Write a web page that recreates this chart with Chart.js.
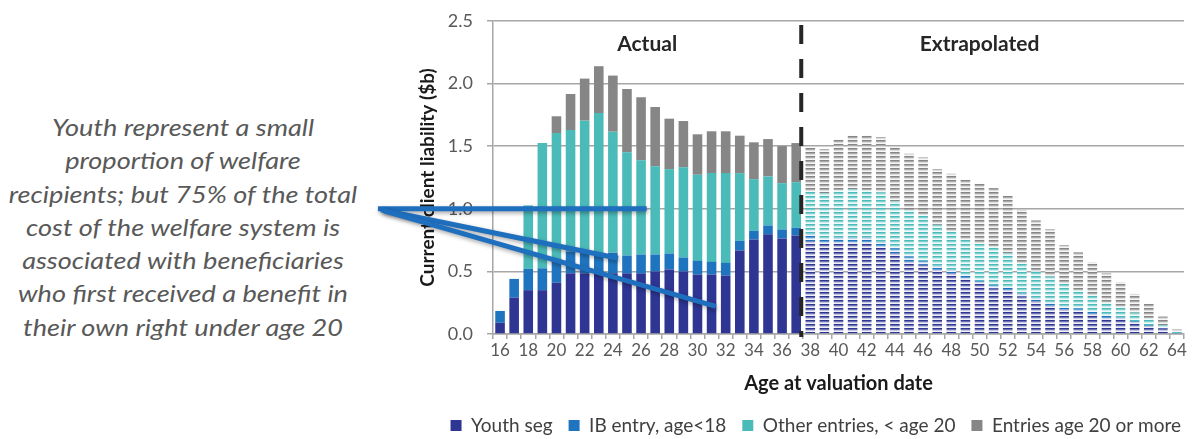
<!DOCTYPE html>
<html>
<head>
<meta charset="utf-8">
<script src="https://cdn.jsdelivr.net/npm/chart.js@4.4.1/dist/chart.umd.min.js"></script>
<style>
  html, body { margin: 0; padding: 0; background: #fff; }
  #wrap { position: relative; width: 1192px; height: 439px; overflow: hidden; }
  #note {
    position: absolute; left: 0; top: 110px; width: 366px;
    text-align: center; font-family: Lato, "Open Sans", sans-serif;
    font-style: italic; font-size: 24px; line-height: 33.3px; color: #595959;
    transform: scaleX(1.13); transform-origin: 183px 0;
    white-space: nowrap;
  }
  #c { position: absolute; left: 0; top: 0; }
</style>
</head>
<body>
<div id="wrap">
  <div id="note">Youth represent a small<br>proportion of welfare<br>recipients; but 75% of the total<br>cost of the welfare system is<br>associated with beneficiaries<br>who first received a benefit in<br>their own right under age 20</div>
  <canvas id="c" width="1192" height="439"></canvas>
</div>
<script>
// Age at valuation date
const ages = ['16','17','18','19','20','21','22','23','24','25','26','27','28','29','30','31','32',
  '33','34','35','36','37','38','39','40','41','42','43','44','45','46','47','48','49','50','51',
  '52','53','54','55','56','57','58','59','60','61','62','63','64'];

// Current client liability ($b) by entry group, one value per age
const youthSeg = [0.09,0.29,0.35,0.35,0.41,0.485,0.485,0.485,0.485,0.485,0.485,0.499,0.515,0.499,
  0.475,0.475,0.467,0.667,0.755,0.797,0.763,0.787,0.74,0.72,0.73,0.73,0.73,0.69,0.645,0.575,0.552,
  0.512,0.485,0.443,0.405,0.365,0.35,0.30,0.26,0.225,0.195,0.18,0.16,0.125,0.112,0.085,0.064,0.045,0.005];
const ibEntry = [0.094,0.15,0.17,0.175,0.19,0.175,0.175,0.165,0.165,0.142,0.15,0.136,0.128,0.112,
  0.109,0.101,0.101,0.077,0.069,0.07,0.072,0.061,0.06,0.04,0.04,0.04,0.04,0.045,0.04,0.045,0.032,
  0.032,0.027,0.021,0.019,0.027,0.025,0.025,0.025,0.026,0.022,0.025,0.02,0.019,0.021,0.019,0.008,0.008,0.003];
const otherUnder20 = [0,0,0.507,1.0,1.005,0.969,1.044,1.115,0.966,0.824,0.752,0.704,0.674,0.72,
  0.688,0.709,0.717,0.541,0.413,0.392,0.37,0.365,0.335,0.365,0.377,0.387,0.377,0.396,0.374,0.37,0.368,
  0.328,0.306,0.288,0.301,0.307,0.27,0.24,0.215,0.208,0.183,0.147,0.132,0.107,0.086,0.067,0.053,0.019,0.007];
const age20Plus = [0,0,0,0,0.134,0.288,0.336,0.374,0.448,0.506,0.504,0.474,0.403,0.37,
  0.323,0.334,0.334,0.299,0.294,0.298,0.296,0.312,0.355,0.352,0.405,0.427,0.437,0.442,0.434,0.45,0.459,
  0.445,0.462,0.48,0.475,0.466,0.459,0.427,0.407,0.378,0.31,0.3,0.26,0.234,0.194,0.149,0.115,0.067,0.022];

const seriesNames = ['Youth seg', 'IB entry, age<18', 'Other entries, < age 20', 'Entries age 20 or more'];
const yTicks = [0, 0.5, 1.0, 1.5, 2.0, 2.5];
const firstExtrapolatedAge = '38';
const periodLabels = ['Actual', 'Extrapolated'];

const colors = ['#2E3592', '#1F74BF', '#4BBBB9', '#868686'];
const firstProj = ages.indexOf(firstExtrapolatedAge);

// Horizontal-stripe fill used for the extrapolated years
function stripes(hex) {
  const cv = document.createElement('canvas');
  cv.width = 4; cv.height = 4;
  const g = cv.getContext('2d');
  g.fillStyle = '#ffffff'; g.fillRect(0, 0, 4, 4);
  g.fillStyle = hex;
  g.fillRect(0, 0, 4, 1);
  g.globalAlpha = 0.7; g.fillRect(0, 1, 4, 1);
  g.globalAlpha = 0.28; g.fillRect(0, 2, 4, 1);
  g.globalAlpha = 0.08; g.fillRect(0, 3, 4, 1);
  return g.createPattern(cv, 'repeat');
}
const ctx2d = document.getElementById('c').getContext('2d');
const patterns = colors.map(stripes);

const values = [youthSeg, ibEntry, otherUnder20, age20Plus];
const datasets = values.map((v, i) => ({
  label: seriesNames[i],
  data: v,
  backgroundColor: c => (c.dataIndex !== undefined && c.dataIndex >= firstProj) ? patterns[i] : colors[i],
  borderWidth: 0,
  categoryPercentage: 1,
  barPercentage: 0.68
}));

// Pointer lines from the note into the chart, in (category index, value) units
const pointerStart = [-8.66, 1.0];
const pointerEnds = [[10.4, 1.0], [8.37, 0.605], [15.3, 0.22]];

const overlay = {
  id: 'overlay',
  afterLayout(chart) {
    // nudge the legend row so it ends flush with the right edge
    if (chart.legend) { chart.legend.left += 13; chart.legend.right += 13; }
  },
  afterDatasetsDraw(chart) {
    const { ctx, chartArea, scales: { x } } = chart;
    const divX = (x.getPixelForValue(firstProj - 1) + x.getPixelForValue(firstProj)) / 2 - 2;
    ctx.save();
    // boundary between actual and extrapolated years
    ctx.strokeStyle = '#262626';
    ctx.lineWidth = 4;
    ctx.setLineDash([19, 15]);
    ctx.beginPath();
    ctx.moveTo(divX, chartArea.top + 4);
    ctx.lineTo(divX, chartArea.bottom + 3);
    ctx.stroke();
    ctx.setLineDash([]);
    // period headings
    ctx.fillStyle = '#262626';
    ctx.font = 'bold 21px Lato';
    ctx.textAlign = 'center';
    ctx.textBaseline = 'middle';
    ctx.fillText(periodLabels[0], (chartArea.left + divX) / 2, 44);
    ctx.fillText(periodLabels[1], x.getPixelForValue(34.0), 44);
    ctx.restore();
  },
  afterDraw(chart) {
    const { ctx, scales: { x, y } } = chart;
    const sx = x.getPixelForValue(pointerStart[0]);
    const sy = y.getPixelForValue(pointerStart[1]);
    ctx.save();
    ctx.strokeStyle = '#1F6FBF';
    ctx.lineWidth = 5;
    ctx.lineCap = 'butt';
    ctx.shadowColor = 'rgba(0,0,0,0.35)';
    ctx.shadowBlur = 4;
    ctx.shadowOffsetX = 1;
    ctx.shadowOffsetY = 2;
    pointerEnds.forEach(([ex, ev], k) => {
      ctx.beginPath();
      ctx.moveTo(sx + k * 3, sy + k);
      ctx.lineTo(x.getPixelForValue(ex), y.getPixelForValue(ev));
      ctx.stroke();
    });
    ctx.restore();
  }
};

new Chart(ctx2d, {
  type: 'bar',
  data: { labels: ages, datasets },
  plugins: [overlay],
  options: {
    responsive: false,
    animation: false,
    devicePixelRatio: 1,
    layout: { padding: { left: 416, right: 8, top: 21, bottom: -6 } },
    plugins: {
      tooltip: { enabled: false },
      legend: {
        position: 'bottom',
        align: 'end',
        labels: {
          boxWidth: 11, boxHeight: 11, padding: 16,
          color: '#404040',
          font: { family: 'Lato', size: 19 }
        }
      }
    },
    scales: {
      x: {
        stacked: true,
        afterFit: s => { s.height = 66; s.paddingLeft = 0; s.paddingRight = 0; },
        grid: { display: true, drawOnChartArea: false, offset: true, color: '#A6A6A6', lineWidth: 1.5, tickLength: 5 },
        border: { display: true, color: '#A6A6A6', width: 1.5 },
        ticks: {
          autoSkip: false, maxRotation: 0, color: '#595959', padding: 1,
          font: { family: 'Lato', size: 17 },
          callback: (v, i) => (i % 2 === 0 ? ages[i] : '')
        },
        title: {
          display: true, text: 'Age at valuation date', color: '#1a1a1a',
          font: { family: 'Lato', size: 20, weight: 'bold' }, padding: { top: 4, bottom: 4 }
        }
      },
      y: {
        stacked: true,
        min: 0, max: 2.5,
        afterFit: s => { s.width = 77; s.paddingTop = 0; s.paddingBottom = 0; },
        afterBuildTicks: s => { s.ticks = yTicks.map(v => ({ value: v })); },
        grid: { color: '#A6A6A6', lineWidth: 1.5, tickLength: 6 },
        border: { display: true, color: '#A6A6A6', width: 1.5 },
        ticks: {
          color: '#595959', padding: 14,
          font: { family: 'Lato', size: 18 },
          callback: v => Number(v).toFixed(1)
        },
        title: {
          display: true, text: 'Current client liability ($b)', color: '#1a1a1a',
          font: { family: 'Lato', size: 19, weight: 'bold' }, padding: { top: 0, bottom: 0 }
        }
      }
    }
  }
});
</script>
</body>
</html>
